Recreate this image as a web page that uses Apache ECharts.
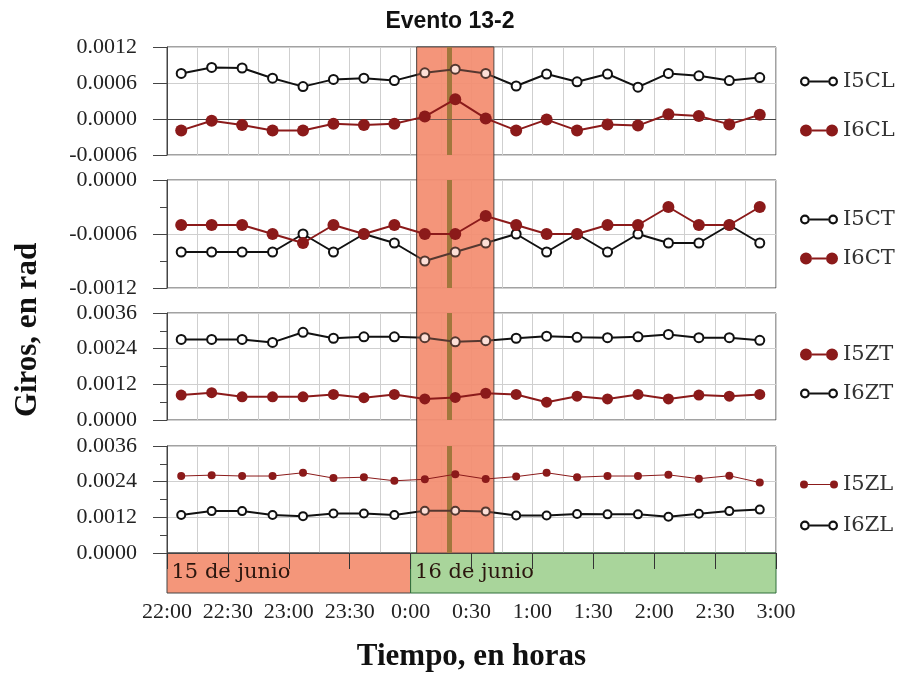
<!DOCTYPE html>
<html>
<head>
<meta charset="utf-8">
<title>Evento 13-2</title>
<script src="https://cdn.jsdelivr.net/npm/echarts@6/dist/echarts.min.js"></script>
<style>
  html, body { margin: 0; padding: 0; background: #fff; }
  #chart { width: 906px; height: 676px; }
</style>
</head>
<body>
<div id="chart"></div>
<script>
// horas de medición (cada 15 min)
const times = ['22:07', '22:22', '22:37', '22:52', '23:07', '23:22', '23:37', '23:52', '0:07', '0:22',
  '0:37', '0:52', '1:07', '1:22', '1:37', '1:52', '2:07', '2:22', '2:37', '2:52']
const xTickLabels = ['22:00', '22:30', '23:00', '23:30', '0:00', '0:30', '1:00', '1:30', '2:00', '2:30', '3:00']
const dayLabels = ['15 de junio', '16 de junio']
const dayBounds = ['22:00', '0:00', '3:00']
const eventWindow = ['0:03', '0:41']
const eventTime = '0:19'

const i5cl = [0.00076, 0.00086, 0.00085, 0.00068, 0.00054, 0.00066, 0.00068, 0.00064, 0.00077, 0.00083,
  0.00076, 0.00055, 0.00075, 0.00062, 0.00075, 0.00053, 0.00076, 0.00072, 0.00064, 0.00069]
const i6cl = [-0.00019, -0.00003, -0.0001, -0.00019, -0.00019, -0.00008, -0.0001, -0.00008, 0.00004, 0.00033,
  0.00001, -0.00019, -0.00001, -0.00019, -0.00009, -0.00011, 0.00008, 0.00005, -0.00009, 0.00007]
const i5ct = [-0.0008, -0.0008, -0.0008, -0.0008, -0.0006, -0.0008, -0.0006, -0.0007, -0.0009, -0.0008,
  -0.0007, -0.0006, -0.0008, -0.0006, -0.0008, -0.0006, -0.0007, -0.0007, -0.0005, -0.0007]
const i6ct = [-0.0005, -0.0005, -0.0005, -0.0006, -0.0007, -0.0005, -0.0006, -0.0005, -0.0006, -0.0006,
  -0.0004, -0.0005, -0.0006, -0.0006, -0.0005, -0.0005, -0.0003, -0.0005, -0.0005, -0.0003]
const i5zt = [0.00084, 0.00092, 0.00078, 0.00078, 0.00078, 0.00086, 0.00075, 0.00086, 0.00071, 0.00076,
  0.0009, 0.00086, 0.0006, 0.0008, 0.00071, 0.00086, 0.00071, 0.00084, 0.0008, 0.00086]
const i6zt = [0.00271, 0.00271, 0.00271, 0.00261, 0.00295, 0.00275, 0.0028, 0.0028, 0.00277, 0.00263,
  0.00267, 0.00275, 0.00282, 0.00278, 0.00277, 0.0028, 0.00288, 0.00277, 0.00277, 0.00268]
const i5zl = [0.00259, 0.00262, 0.00259, 0.00259, 0.0027, 0.00252, 0.00255, 0.00243, 0.00248, 0.00265,
  0.00249, 0.00257, 0.0027, 0.00255, 0.00259, 0.00259, 0.00263, 0.0025, 0.0026, 0.00237]
const i6zl = [0.00128, 0.00141, 0.00141, 0.00128, 0.00124, 0.00133, 0.00133, 0.00128, 0.00142, 0.00142,
  0.0014, 0.00126, 0.00126, 0.00131, 0.0013, 0.0013, 0.00122, 0.00132, 0.00141, 0.00146]

const BLACK = '#111'
const RED = '#8b1a1a'
const SERIF = 'Liberation Serif'
const WIDE = 'DejaVu Serif'

// minutos desde las 22:00
const toMin = s => {
  const [h, m] = s.split(':').map(Number)
  return (h * 60 + m - 22 * 60 + 1440) % 1440
}
const pairs = vals => times.map((t, i) => [toMin(t), vals[i]])

// iconos de leyenda: dos marcadores unidos por una línea
const ringIcon = 'path://M1.5,6 A4.5,4.5 0 1,1 10.5,6 A4.5,4.5 0 1,1 1.5,6 Z M3.5,6 A2.5,2.5 0 1,0 8.5,6 A2.5,2.5 0 1,0 3.5,6 Z ' +
  'M10.5,5 L27.5,5 L27.5,7 L10.5,7 Z M27.5,6 A4.5,4.5 0 1,1 36.5,6 A4.5,4.5 0 1,1 27.5,6 Z M29.5,6 A2.5,2.5 0 1,0 34.5,6 A2.5,2.5 0 1,0 29.5,6 Z'
const dotIcon = 'path://M0,6 A6,6 0 1,1 12,6 A6,6 0 1,1 0,6 Z M12,5 L26,5 L26,7 L12,7 Z M26,6 A6,6 0 1,1 38,6 A6,6 0 1,1 26,6 Z'
const smallDotIcon = 'path://M0,6 A4,4 0 1,1 8,6 A4,4 0 1,1 0,6 Z M8,5.5 L30,5.5 L30,6.5 L8,6.5 Z M30,6 A4,4 0 1,1 38,6 A4,4 0 1,1 30,6 Z'

const openStyle = { symbol: 'emptyCircle', symbolSize: 9, color: BLACK, width: 2, icon: ringIcon, z: 4 }
const fullStyle = { symbol: 'circle', symbolSize: 12, color: RED, width: 2, icon: dotIcon, z: 6 }

const panels = [
  { min: -0.0006, max: 0.0012, interval: 0.0006, minor: false, top: 47, height: 108,
    legendTop: 66, legendGap: 28,
    series: [{ name: 'I5CL', data: i5cl, ...openStyle }, { name: 'I6CL', data: i6cl, ...fullStyle }] },
  { min: -0.0012, max: 0, interval: 0.0006, minor: true, top: 180, height: 108,
    legendTop: 204, legendGap: 18,
    series: [{ name: 'I5CT', data: i5ct, ...openStyle }, { name: 'I6CT', data: i6ct, ...fullStyle }] },
  { min: 0, max: 0.0036, interval: 0.0012, minor: true, top: 313, height: 107,
    legendTop: 339, legendGap: 18,
    series: [{ name: 'I5ZT', data: i5zt, ...fullStyle, symbolSize: 11 }, { name: 'I6ZT', data: i6zt, ...openStyle }] },
  { min: 0, max: 0.0036, interval: 0.0012, minor: true, top: 446, height: 107,
    legendTop: 469, legendGap: 20,
    series: [{ name: 'I5ZL', data: i5zl, ...fullStyle, symbolSize: 8, width: 1, icon: smallDotIcon },
      { name: 'I6ZL', data: i6zl, ...openStyle, symbolSize: 8 }] }
]

const LEFT = 167
const WIDTH = 609
const xRange = { type: 'value', min: 0, max: 300 }

const grid = panels.map(p => ({
  left: LEFT, width: WIDTH, top: p.top, height: p.height,
  show: true, borderColor: '#444', borderWidth: 1, backgroundColor: 'transparent'
}))
grid.push({ left: LEFT, width: WIDTH, top: 553, height: 40 }) // barra de fechas
grid.push({ left: LEFT, width: WIDTH, top: 47, height: 506 }) // recuadro del evento

const xAxis = panels.map((p, i) => ({
  ...xRange, gridIndex: i, interval: 15,
  axisLabel: { show: false }, axisTick: { show: false }, axisLine: { show: false },
  splitLine: { show: true, lineStyle: { color: '#cfcfcf', width: 1 } }
}))
// 4: marcas de la barra de fechas, 5: etiquetas de hora, 6: recuadro
xAxis.push({
  ...xRange, gridIndex: 4, position: 'top', interval: 30, z: 10,
  axisLabel: { show: false }, splitLine: { show: false },
  axisLine: { show: true, onZero: false, lineStyle: { color: '#444', width: 1 } },
  axisTick: { show: true, inside: true, length: 16, lineStyle: { color: '#333', width: 1 } }
})
xAxis.push({
  ...xRange, gridIndex: 4, position: 'bottom', interval: 30,
  axisLine: { show: false, onZero: false }, axisTick: { show: false }, splitLine: { show: false },
  axisLabel: {
    formatter: v => xTickLabels[Math.round(v / 30)],
    fontFamily: SERIF, fontSize: 22, color: '#222', margin: 8
  },
  name: 'Tiempo, en horas', nameLocation: 'middle', nameGap: 48,
  nameTextStyle: { fontFamily: SERIF, fontWeight: 'bold', fontSize: 31, color: '#111' }
})
xAxis.push({ ...xRange, gridIndex: 5, show: false })

const fmt = v => (Math.abs(v) < 1e-9 ? 0 : v).toFixed(4)
const yAxis = panels.map((p, i) => ({
  type: 'value', gridIndex: i, min: p.min, max: p.max, interval: p.interval,
  axisLine: { show: true, onZero: false, lineStyle: { color: '#444' } },
  axisTick: { show: true, length: 14, lineStyle: { color: '#444' } },
  minorTick: { show: p.minor, splitNumber: 2, length: 7, lineStyle: { color: '#444' } },
  splitLine: { show: true, lineStyle: { color: '#cfcfcf' } },
  axisLabel: { formatter: fmt, fontFamily: SERIF, fontSize: 22, color: '#222', margin: 30 }
}))
yAxis.push({ type: 'value', gridIndex: 4, min: 0, max: 1, show: false })
yAxis.push({ type: 'value', gridIndex: 5, min: 0, max: 1, show: false })

const series = []
panels.forEach((p, i) => {
  p.series.forEach((s, k) => {
    const item = {
      name: s.name, type: 'line', xAxisIndex: i, yAxisIndex: i, z: s.z,
      data: pairs(s.data),
      symbol: s.symbol, symbolSize: s.symbolSize,
      lineStyle: { color: s.color, width: s.width },
      itemStyle: { color: s.color, borderColor: s.color, borderWidth: s.symbol === 'emptyCircle' ? 2 : 0 }
    }
    if (k === 0) {
      const lines = [{ xAxis: toMin(eventTime) }]
      if (p.min < 0 && p.max > 0) lines.push({ yAxis: 0, lineStyle: { color: '#444', width: 1 } })
      item.markLine = {
        silent: true, symbol: 'none', z: 3, label: { show: false },
        lineStyle: { color: '#7d6a22', width: 5, type: 'solid' },
        data: lines
      }
    }
    series.push(item)
  })
})

// barra de días (z bajo para que las marcas del eje queden encima)
series.push({
  type: 'line', xAxisIndex: 4, yAxisIndex: 4, data: [], z: 0,
  markArea: {
    silent: true, z: 0,
    label: { show: true, position: 'insideLeft', distance: 5, fontFamily: WIDE, fontSize: 21, color: '#2b160e' },
    data: [
      [{ xAxis: toMin(dayBounds[0]), name: dayLabels[0], itemStyle: { color: '#f4967a', borderColor: '#444', borderWidth: 1 } },
        { xAxis: toMin(dayBounds[1]) }],
      [{ xAxis: toMin(dayBounds[1]), name: dayLabels[1], itemStyle: { color: '#a9d59b', borderColor: '#2f6e3a', borderWidth: 1 } },
        { xAxis: toMin(dayBounds[2]) }]
    ]
  }
})

// recuadro del evento, y un velo encima de las series
series.push({
  type: 'line', xAxisIndex: 6, yAxisIndex: 5, data: [],
  markArea: {
    silent: true, z: 1,
    itemStyle: { color: 'rgba(243,138,107,0.9)', borderColor: '#333', borderWidth: 1 },
    data: [[{ xAxis: toMin(eventWindow[0]) }, { xAxis: toMin(eventWindow[1]) }]]
  }
})
series.push({
  type: 'line', xAxisIndex: 6, yAxisIndex: 5, data: [],
  markArea: {
    silent: true, z: 5,
    itemStyle: { color: 'rgba(244,150,122,0.3)', borderWidth: 0 },
    data: [[{ xAxis: toMin(eventWindow[0]) }, { xAxis: toMin(eventWindow[1]) }]]
  }
})

const legend = panels.map(p => ({
  orient: 'vertical', left: 795, top: p.legendTop,
  itemWidth: 38, itemHeight: 12, itemGap: p.legendGap, itemTextGap: 14,
  selectedMode: false,
  textStyle: { fontFamily: WIDE, fontSize: 21, color: '#333' },
  data: p.series.map(s => ({ name: s.name, icon: s.icon, itemStyle: { color: s.color, borderWidth: 0 } }))
}))

const chart = echarts.init(document.getElementById('chart'))
chart.setOption({
  animation: false,
  backgroundColor: '#fff',
  title: {
    text: 'Evento 13-2', left: 445, top: 5, textAlign: 'center',
    textStyle: { fontFamily: 'Liberation Sans', fontWeight: 'bold', fontSize: 23, color: '#111' }
  },
  graphic: [{
    type: 'text', x: 28, y: 330, rotation: Math.PI / 2,
    style: { text: 'Giros, en rad', font: 'bold 31px "Liberation Serif"', fill: '#111', align: 'center', verticalAlign: 'middle' }
  }],
  legend,
  grid,
  xAxis,
  yAxis,
  series
})
</script>
</body>
</html>
